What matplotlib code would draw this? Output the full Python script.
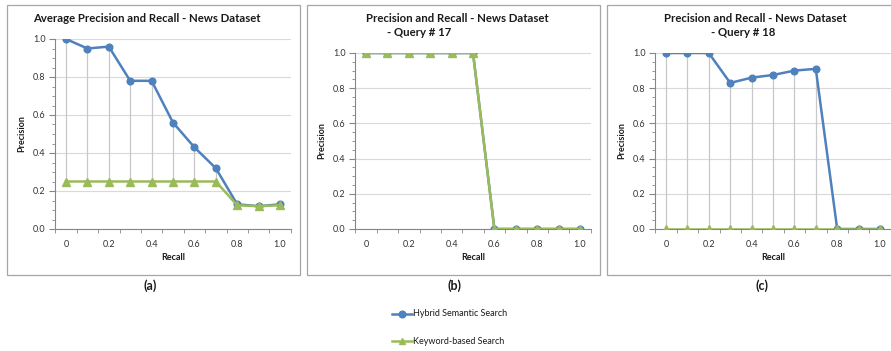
import matplotlib
matplotlib.use("Agg")
import matplotlib.pyplot as plt
import numpy as np
from matplotlib.lines import Line2D
from matplotlib.patches import Rectangle
from matplotlib.ticker import FormatStrFormatter, MultipleLocator

plt.rcParams["font.family"] = ["Lato", "DejaVu Sans"]

recall = ["0", "0.1", "0.2", "0.3", "0.4", "0.5", "0.6", "0.7", "0.8", "0.9", "1.0"]
shown_ticks = ["0", "", "0.2", "", "0.4", "", "0.6", "", "0.8", "", "1.0"]

hybrid_avg = [1.0, 0.95, 0.96, 0.78, 0.78, 0.56, 0.43, 0.32, 0.13, 0.12, 0.13]
keyword_avg = [0.25, 0.25, 0.25, 0.25, 0.25, 0.25, 0.25, 0.25, 0.125, 0.12, 0.125]

hybrid_q17 = [1, 1, 1, 1, 1, 1, 0, 0, 0, 0, 0]
keyword_q17 = [1, 1, 1, 1, 1, 1, 0, 0, 0, 0, 0]

hybrid_q18 = [1.0, 1.0, 1.0, 0.83, 0.86, 0.875, 0.9, 0.91, 0, 0, 0]
keyword_q18 = [0, 0, 0, 0, 0, 0, 0, 0, 0, 0, 0]

BLUE = "#4F81BD"
GREEN = "#9BBB59"
TXT = "#1A1A1A"
W, H = 891, 351


def px_axes(fig, left, right, top, bottom):
    return fig.add_axes([left / W, 1 - bottom / H, (right - left) / W, (bottom - top) / H])


def draw_panel(ax, hyb, kw):
    x = np.arange(len(recall))
    lo = np.minimum(hyb, kw)
    hi = np.maximum(hyb, kw)
    # high-low lines between the two series
    ax.vlines(x, lo, hi, color="#C8C8C8", lw=0.9, zorder=1)
    ax.plot(x, hyb, color=BLUE, lw=1.8, marker="o", ms=4.8, zorder=3)
    ax.plot(x, kw, color=GREEN, lw=1.8, marker="^", ms=5.5, zorder=4)
    ax.set_xlim(-0.5, len(recall) - 0.5)
    ax.set_ylim(0, 1)
    ax.set_xticks(x)
    ax.set_xticklabels(shown_ticks, fontsize=6.5, color="#333333")
    ax.set_xticks(np.arange(-0.5, len(recall)), minor=True)
    ax.tick_params(axis="x", which="major", length=0, pad=8)
    ax.tick_params(axis="x", which="minor", length=3, color="#868686", direction="out")
    ax.yaxis.set_major_locator(MultipleLocator(0.2))
    ax.yaxis.set_minor_locator(MultipleLocator(0.05))
    ax.yaxis.set_major_formatter(FormatStrFormatter("%.1f"))
    ax.tick_params(axis="y", which="major", length=4, color="#868686", labelsize=6.5,
                   labelcolor="#333333", pad=3)
    ax.tick_params(axis="y", which="minor", length=2, color="#868686")
    ax.grid(axis="y", color="#D9D9D9", lw=0.8, zorder=0)
    ax.set_axisbelow(True)
    for s in ("top", "right"):
        ax.spines[s].set_visible(False)
    for s in ("left", "bottom"):
        ax.spines[s].set_color("#868686")
        ax.spines[s].set_linewidth(0.8)
    ax.set_xlabel("Recall", fontsize=6.5, fontweight="bold", color=TXT, labelpad=3)
    ax.set_ylabel("Precision", fontsize=6.5, fontweight="bold", color=TXT, labelpad=5)
    ax.set_facecolor("none")


fig = plt.figure(figsize=(W / 100, H / 100), dpi=100)

# panel frames
for x0, x1 in [(7, 300), (307, 600), (607, 900)]:
    fig.patches.append(Rectangle((x0 / W, 1 - 275 / H), (x1 - x0) / W, 270 / H,
                                 transform=fig.transFigure, fill=False,
                                 edgecolor="#A6A6A6", lw=0.9))

ax_a = px_axes(fig, 55.3, 290.7, 39, 229)
draw_panel(ax_a, hybrid_avg, keyword_avg)
ax_b = px_axes(fig, 355.3, 590.7, 53, 229)
draw_panel(ax_b, hybrid_q17, keyword_q17)
ax_c = px_axes(fig, 655.3, 890.7, 53, 229)
draw_panel(ax_c, hybrid_q18, keyword_q18)

tkw = dict(fontsize=8.2, fontweight="bold", color=TXT, va="center")
fig.text(147 / W, 1 - 18 / H, "Average Precision and Recall - News Dataset", ha="center", **tkw)
fig.text(457 / W, 1 - 18 / H, "Precision and Recall - News Dataset", ha="center", **tkw)
fig.text(387 / W, 1 - 33 / H, "- Query # 17", ha="left", **tkw)
fig.text(755 / W, 1 - 18 / H, "Precision and Recall - News Dataset", ha="center", **tkw)
fig.text(711 / W, 1 - 33 / H, "- Query # 18", ha="left", **tkw)

for xc, lab in [(150, "(a)"), (455, "(b)"), (762, "(c)")]:
    fig.text(xc / W, 1 - 286 / H, lab, ha="center", va="center", fontsize=9,
             fontweight="bold", color=TXT)

# legend
for yc, col, mk, lab in [(314, BLUE, "o", "Hybrid Semantic Search"),
                         (341, GREEN, "^", "Keyword-based Search")]:
    fig.lines.append(Line2D([392 / W, 412 / W], [1 - yc / H, 1 - yc / H],
                            transform=fig.transFigure, color=col, lw=1.8))
    fig.lines.append(Line2D([402 / W], [1 - yc / H], transform=fig.transFigure,
                            color=col, marker=mk, ms=4.8, lw=0))
    fig.text(413 / W, 1 - yc / H, lab, ha="left", va="center", fontsize=6.5, color=TXT)

fig.savefig("out.png", dpi=100)
